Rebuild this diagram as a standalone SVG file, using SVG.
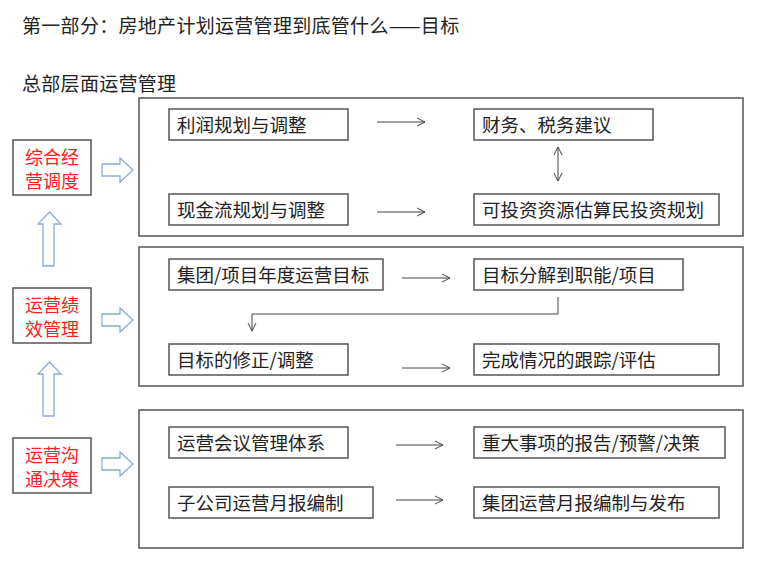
<svg xmlns="http://www.w3.org/2000/svg" width="760" height="569" viewBox="0 0 760 569">
<style>
text{font-family:"Noto Sans CJK SC","Noto Sans",sans-serif;font-size:18.5px;fill:#222}
.title{font-size:19px;letter-spacing:0.3px}
.red{fill:#ff2020;text-anchor:middle;font-size:18px}
.sec{fill:#fff;stroke:#555;stroke-width:1.5}
.box{fill:#fff;stroke:#555;stroke-width:1.5}
.conn{fill:none;stroke:#444;stroke-width:1}
.blk{fill:#fff;stroke:#8eaad6;stroke-width:1.3}
</style>
<defs>
<marker id="ah" markerWidth="10" markerHeight="10" refX="9" refY="5" orient="auto" markerUnits="userSpaceOnUse">
<path d="M1,1 L9,5 L1,9" fill="none" stroke="#444" stroke-width="1"/>
</marker>
<marker id="ahs" markerWidth="10" markerHeight="10" refX="9" refY="5" orient="auto-start-reverse" markerUnits="userSpaceOnUse">
<path d="M1,1 L9,5 L1,9" fill="none" stroke="#444" stroke-width="1"/>
</marker>
</defs>
<rect width="760" height="569" fill="#fff"/>
<text class="title" x="22" y="33">第一部分：房地产计划运营管理到底管什么——目标</text>
<text class="title" x="22" y="91">总部层面运营管理</text>

<g id="sections">
<rect class="sec" x="139" y="98" width="604" height="138"/>
<rect class="sec" x="139" y="247" width="604" height="139"/>
<rect class="sec" x="139" y="410" width="604" height="138"/>
</g>

<g id="n-zonghe"><rect class="box" x="13" y="140" width="78" height="55"/><text class="red" x="52" y="164">综合经</text><text class="red" x="52" y="188">营调度</text></g>
<g id="n-jixiao"><rect class="box" x="13" y="288" width="78" height="55"/><text class="red" x="52" y="312">运营绩</text><text class="red" x="52" y="336">效管理</text></g>
<g id="n-goutong"><rect class="box" x="13" y="438" width="78" height="55"/><text class="red" x="52" y="462">运营沟</text><text class="red" x="52" y="486">通决策</text></g>

<g id="n1"><rect class="box" x="169" y="109" width="179" height="31"/><text x="177" y="132">利润规划与调整</text></g>
<g id="n2"><rect class="box" x="474" y="109" width="179" height="31"/><text x="482" y="132">财务、税务建议</text></g>
<g id="n3"><rect class="box" x="169" y="194" width="179" height="31"/><text x="177" y="217">现金流规划与调整</text></g>
<g id="n4"><rect class="box" x="474" y="194" width="245" height="31"/><text x="482" y="217">可投资资源估算民投资规划</text></g>

<g id="n5"><rect class="box" x="169" y="259" width="214" height="31"/><text x="177" y="282">集团/项目年度运营目标</text></g>
<g id="n6"><rect class="box" x="474" y="259" width="209" height="31"/><text x="482" y="282">目标分解到职能/项目</text></g>
<g id="n7"><rect class="box" x="169" y="344" width="179" height="31"/><text x="177" y="367">目标的修正/调整</text></g>
<g id="n8"><rect class="box" x="474" y="344" width="245" height="31"/><text x="482" y="367">完成情况的跟踪/评估</text></g>

<g id="n9"><rect class="box" x="169" y="427" width="179" height="31"/><text x="177" y="450">运营会议管理体系</text></g>
<g id="n10"><rect class="box" x="474" y="427" width="251" height="31"/><text x="482" y="450">重大事项的报告/预警/决策</text></g>
<g id="n11"><rect class="box" x="169" y="487" width="204" height="31"/><text x="177" y="510">子公司运营月报编制</text></g>
<g id="n12"><rect class="box" x="474" y="487" width="245" height="31"/><text x="482" y="510">集团运营月报编制与发布</text></g>

<g id="connectors">
<path class="blk" d="M102,164 H120 V158 L133,170 L120,182 V176 H102 Z"/>
<path class="blk" d="M102,314 H120 V308 L133,320 L120,332 V326 H102 Z"/>
<path class="blk" d="M102,458 H120 V452 L133,464 L120,476 V470 H102 Z"/>
<path class="blk" d="M43,266 V224 H38 L49.5,212 L61,224 H54 V266 Z"/>
<path class="blk" d="M43,416 V374 H38 L49.5,362 L61,374 H54 V416 Z"/>
<line class="conn" x1="377" y1="122" x2="425" y2="122" marker-end="url(#ah)"/>
<line class="conn" x1="377" y1="212" x2="425" y2="212" marker-end="url(#ah)"/>
<line class="conn" x1="558" y1="147" x2="558" y2="181" marker-start="url(#ahs)" marker-end="url(#ah)"/>
<line class="conn" x1="402" y1="278" x2="450" y2="278" marker-end="url(#ah)"/>
<line class="conn" x1="402" y1="368" x2="450" y2="368" marker-end="url(#ah)"/>
<path class="conn" d="M558,297 V314 H252 V331" marker-end="url(#ah)"/>
<line class="conn" x1="396" y1="445" x2="443" y2="445" marker-end="url(#ah)"/>
<line class="conn" x1="396" y1="500" x2="443" y2="500" marker-end="url(#ah)"/>
</g>
</svg>
